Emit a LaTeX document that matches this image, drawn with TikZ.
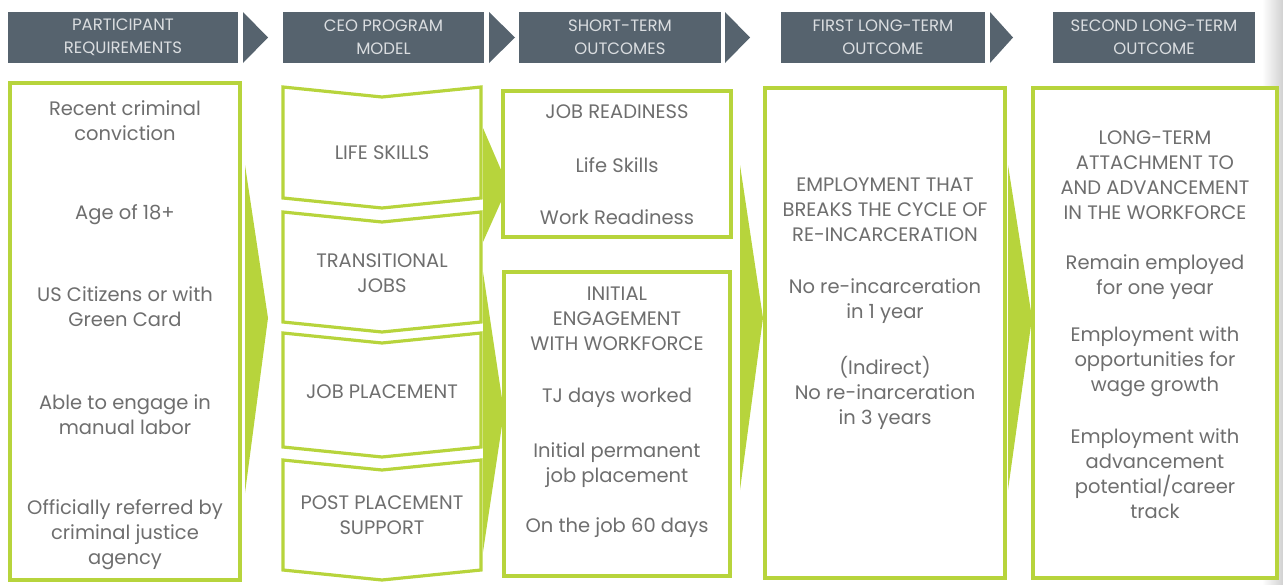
\documentclass[tikz,border=0pt]{standalone}
\usepackage{fontspec}
\setmainfont{Poppins}
\usepackage{xcolor}
\usetikzlibrary{positioning}
\definecolor{headgray}{HTML}{56636E}
\definecolor{headtext}{HTML}{DADDE0}
\definecolor{lime}{HTML}{B7D43C}
\definecolor{bodytext}{HTML}{6E6E6E}
\tikzset{headbox/.style={fill=headgray, text=headtext, minimum height=51pt,
align=center, inner sep=0pt, font=\fontsize{16.5}{23}\selectfont},
greenbox/.style={draw=lime, line width=3.2pt, fill=white, inner sep=0pt},
bodytxt/.style={text=bodytext, align=center, inner sep=0pt,
font=\fontsize{19.5}{25}\selectfont}}

\begin{document}
\begin{tikzpicture}[x=1pt, y=-1pt]
	\useasboundingbox (0,0) rectangle (1283,584);
	\shade[left color=white, right color=black!18] (1262,0) rectangle (1283,584);
	% header row
	\node[headbox, minimum width=230pt] (hreq) at (123,37.5) {PARTICIPANT\\REQUIREMENTS};
	\node[headbox, minimum width=201pt] (hceo) at (383.5,37.5) {CEO PROGRAM\\MODEL};
	\node[headbox, minimum width=202pt] (hshort) at (620,37.5) {SHORT-TERM\\OUTCOMES};
	\node[headbox, minimum width=204pt] (hfirst) at (883,37.5) {FIRST LONG-TERM\\OUTCOME};
	\node[headbox, minimum width=202pt] (hsecond) at (1154,37.5) {SECOND LONG-TERM\\OUTCOME};
	\foreach \xa/\xb in {243/268, 489/515, 725/750, 990/1013}
		\fill[headgray] (\xa,12) -- (\xb,37.5) -- (\xa,63) -- cycle;
	% green arrows
	\fill[lime] (245,165) -- (268,318) -- (245,493) -- cycle;
	\fill[lime] (483,128) -- (508,186) -- (483,242) -- cycle;
	\fill[lime] (483,272) -- (504,412) -- (483,552) -- cycle;
	\fill[lime] (740,165) -- (763,318) -- (740,490) -- cycle;
	\fill[lime] (1008,165) -- (1032,318) -- (1008,490) -- cycle;
	% participant requirements
	\node[greenbox, minimum width=230pt, minimum height=497pt] (req) at (125,331.5) {};
	\node[bodytxt] (conv) at (125,120.5) {Recent criminal\\conviction};
	\node[bodytxt] (age) at (125,215) {Age of 18+};
	\node[bodytxt] (citz) at (125,306.5) {US Citizens or with\\Green Card};
	\node[bodytxt] (labor) at (125,415) {Able to engage in\\manual labor};
	\node[bodytxt] (refer) at (125,535) {Officially referred by\\criminal justice\\agency};
	% program model
	\foreach \t/\b in {87/198, 212/322, 333/447, 460/570}
		\draw[lime, line width=3.2pt, line join=miter] (283,\t) -- (382,\t+10) -- (481,\t)
			-- (481,\b) -- (382,\b+10) -- (283,\b) -- cycle;
	\node[bodytxt] (life) at (382,153) {LIFE SKILLS};
	\node[bodytxt] (trans) at (382,273) {TRANSITIONAL\\JOBS};
	\node[bodytxt] (place) at (382,392) {JOB PLACEMENT};
	\node[bodytxt] (post) at (382,515) {POST PLACEMENT\\SUPPORT};
	% short-term outcomes
	\node[greenbox, minimum width=228pt, minimum height=146pt] (ready) at (617,164) {};
	\node[bodytxt] (readyhd) at (617,112) {JOB READINESS};
	\node[bodytxt] (readyls) at (617,165) {Life Skills};
	\node[bodytxt] (readywr) at (617,217) {Work Readiness};
	\node[greenbox, minimum width=226pt, minimum height=304pt] (engage) at (617,424) {};
	\node[bodytxt] (engagehd) at (617,319) {INITIAL\\ENGAGEMENT\\WITH WORKFORCE};
	\node[bodytxt] (tjdays) at (617,398) {TJ days worked};
	\node[bodytxt] (perm) at (617,465) {Initial permanent\\job placement};
	\node[bodytxt] (sixty) at (617,528) {On the job 60 days};
	% first long-term outcome
	\node[greenbox, minimum width=240pt, minimum height=490pt] (first) at (885,333) {};
	\node[bodytxt] (firsthd) at (885,210) {EMPLOYMENT THAT\\BREAKS THE CYCLE OF\\RE-INCARCERATION};
	\node[bodytxt] (oneyr) at (885,301) {No re-incarceration\\in 1 year};
	\node[bodytxt] (threeyr) at (885,393) {(Indirect)\\No re-inarceration\\in 3 years};
	% second long-term outcome
	\node[greenbox, minimum width=244pt, minimum height=490pt] (second) at (1155,333) {};
	\node[bodytxt] (secondhd) at (1155,175.5) {LONG-TERM\\ATTACHMENT TO\\AND ADVANCEMENT\\IN THE WORKFORCE};
	\node[bodytxt] (remain) at (1155,277.5) {Remain employed\\for one year};
	\node[bodytxt] (wage) at (1155,362) {Employment with\\opportunities for\\wage growth};
	\node[bodytxt] (career) at (1155,473.5) {Employment with\\advancement\\potential/career\\track};
\end{tikzpicture}
\end{document}
